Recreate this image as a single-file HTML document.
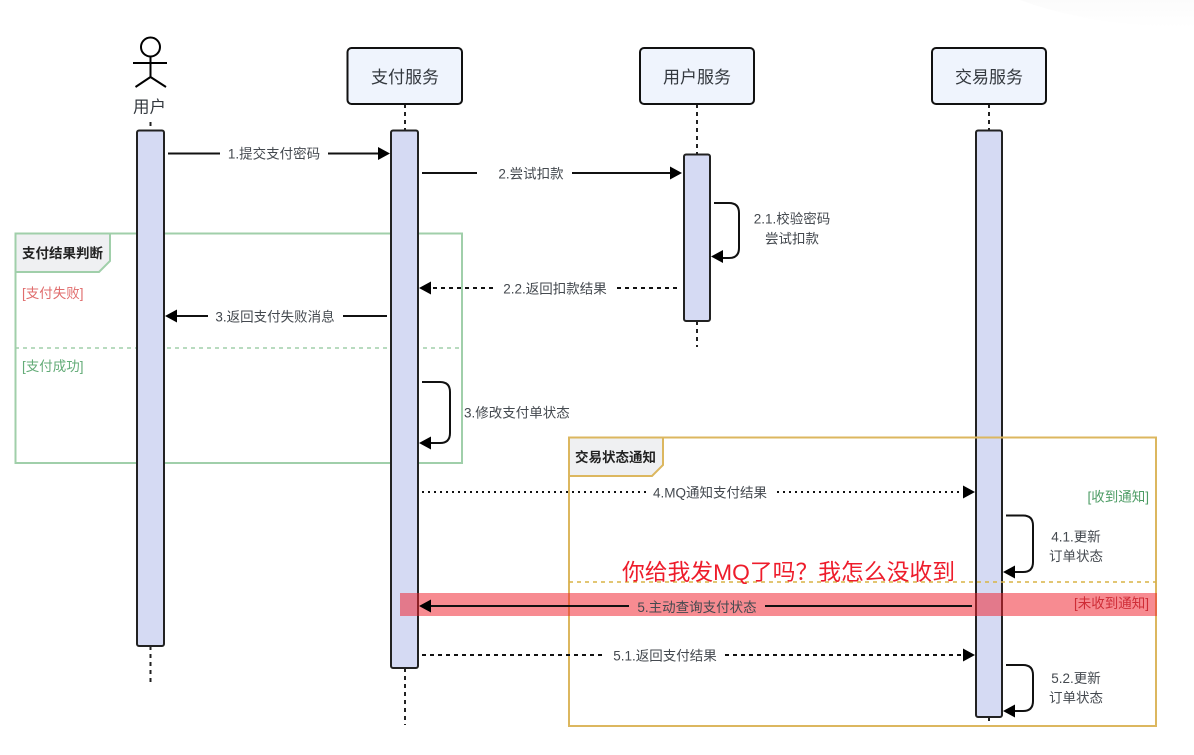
<!DOCTYPE html>
<html><head><meta charset="utf-8"><style>
html,body{margin:0;padding:0;background:#fff;width:1194px;height:755px;overflow:hidden}
svg{display:block}
text{font-family:"Liberation Sans","Noto Sans CJK SC",sans-serif;fill:#44494f;font-size:13.5px}
.c{text-anchor:middle}
.p{font-size:17px;fill:#33383e}
.b{font-weight:bold;fill:#222;font-size:13.5px}
.l{fill:none;stroke:#111;stroke-width:2}
.d{stroke-dasharray:4 4}
.o{stroke-dasharray:2 4}
.ll{fill:none;stroke:#222;stroke-width:2;stroke-dasharray:4 4}
.a{fill:#d5daf3;stroke:#222;stroke-width:2}
.n{fill:#eff4fd;stroke:#111;stroke-width:2}
.h{fill:#000}
</style></head><body>
<svg width="1194" height="755" viewBox="0 0 1194 755" xmlns="http://www.w3.org/2000/svg">
<defs><linearGradient id="g" x1="0" y1="0" x2="0" y2="1"><stop offset="0" stop-color="#fbfbfb"/><stop offset="1" stop-color="#fff"/></linearGradient></defs>
<path d="M1020 0H1194V28Q1090 26 1020 0Z" fill="url(#g)"/>

<!-- green frame -->
<rect x="15.5" y="233.5" width="446.5" height="229.5" fill="#fff" stroke="#a0cfaa" stroke-width="2"/>
<path d="M15.5 233.5H110V261L99 272H15.5Z" fill="#eff0f2" stroke="#a0cfaa" stroke-width="2"/>
<text class="b" x="22" y="258">支付结果判断</text>
<text x="22" y="298" style="fill:#e06d6d">[支付失败]</text>
<line x1="15" y1="348" x2="462" y2="348" stroke="#a0cfaa" stroke-width="1.5" stroke-dasharray="4 4"/>
<text x="22" y="371" style="fill:#63ab77">[支付成功]</text>

<!-- lifelines -->
<line class="ll" x1="150.5" y1="122" x2="150.5" y2="130"/>
<line class="ll" x1="150.5" y1="646" x2="150.5" y2="684"/>
<line class="ll" x1="405" y1="104" x2="405" y2="130"/>
<line class="ll" x1="405" y1="668" x2="405" y2="725"/>
<line class="ll" x1="697" y1="104" x2="697" y2="154"/>
<line class="ll" x1="697" y1="321" x2="697" y2="347"/>
<line class="ll" x1="989" y1="104" x2="989" y2="130"/>
<line class="ll" x1="989" y1="717" x2="989" y2="725"/>

<!-- activations -->
<rect class="a" x="137" y="130.500" width="27" height="515.500" rx="2"/>
<rect class="a" x="391" y="130.500" width="27" height="537.500" rx="2"/>
<rect class="a" x="684" y="154.500" width="26" height="166.500" rx="2"/>
<rect class="a" x="976" y="130.500" width="26" height="586.500" rx="2"/>

<!-- yellow frame -->
<rect x="569" y="437.5" width="587" height="288.5" fill="none" stroke="#dcb75f" stroke-width="2"/>
<path d="M569 437.5H663V465L652 476H569Z" fill="#eff0f2" stroke="#dcb75f" stroke-width="2"/>
<text class="b" x="575" y="462">交易状态通知</text>
<line x1="569" y1="582" x2="1156" y2="582" stroke="#d8b445" stroke-width="1.5" stroke-dasharray="4 4"/>

<!-- participants -->
<rect class="n" x="347.500" y="48" width="114.500" height="56" rx="4"/>
<text class="p c" x="405" y="83">支付服务</text>
<rect class="n" x="640" y="48" width="114" height="56" rx="4"/>
<text class="p c" x="697" y="83">用户服务</text>
<rect class="n" x="932" y="48" width="114" height="56" rx="4"/>
<text class="p c" x="989" y="83">交易服务</text>

<!-- actor -->
<g fill="none" stroke="#000" stroke-width="2">
<circle cx="150.500" cy="47" r="9.500"/>
<path d="M150.500 56.500V77M133 63H167M135.500 87L150.500 77L166 87"/>
</g>
<text class="p c" x="149.500" y="112.500" style="font-size:16.500px">用户</text>

<!-- red band -->
<rect x="400" y="593" width="757" height="23" fill="#f0202c" fill-opacity="0.52"/>

<!-- 1 -->
<path class="l" d="M168 153.500H220M328 153.500H381"/>
<path class="h" d="M390 153.500L378 147V160Z"/>
<text class="c" x="274" y="158.500">1.提交支付密码</text>
<!-- 2 -->
<path class="l" d="M422 173H477M572 173H673"/>
<path class="h" d="M682 173L670 166.500V179.500Z"/>
<text class="c" x="531" y="178.500">2.尝试扣款</text>
<!-- 2.1 -->
<path class="l" d="M714 203H729Q739 203 739 213V248Q739 258 729 258H720"/>
<path class="h" d="M711 256.500L723 250V263Z"/>
<text class="c" x="792" y="223.500">2.1.校验密码</text>
<text class="c" x="792" y="243.500">尝试扣款</text>
<!-- 2.2 -->
<path class="l d" d="M433 288H493M617 288H680"/>
<path class="h" d="M419 288L431 281.500V294.500Z"/>
<text class="c" x="555" y="293.500">2.2.返回扣款结果</text>
<!-- 3 -->
<path class="l" d="M174 316H208M343 316H387"/>
<path class="h" d="M165 316L177 309.500V322.500Z"/>
<text class="c" x="275" y="321.500">3.返回支付失败消息</text>
<!-- 3 self -->
<path class="l" d="M422 382H440Q450 382 450 392V433Q450 443 440 443H428"/>
<path class="h" d="M419 443L431 436.500V449.500Z"/>
<text x="464" y="417.500">3.修改支付单状态</text>
<!-- 4 -->
<path class="l o" d="M422 492H648M777 492H966"/>
<path class="h" d="M975 492L963 485.500V498.500Z"/>
<text class="c" x="710" y="497.500">4.MQ通知支付结果</text>
<text x="1149" y="501.500" style="text-anchor:end;fill:#4d9c65">[收到通知]</text>
<!-- 4.1 -->
<path class="l" d="M1006 515.500H1023Q1033 515.500 1033 525.500V562Q1033 572 1023 572H1012"/>
<path class="h" d="M1003 572L1015 565.500V578.500Z"/>
<text class="c" x="1076" y="541.500">4.1.更新</text>
<text class="c" x="1076" y="561">订单状态</text>
<!-- annotation -->
<text x="622" y="580" textLength="333" lengthAdjust="spacingAndGlyphs" style="font-size:22.500px;fill:#ee1c2b">你给我发MQ了吗？我怎么没收到</text>
<!-- 5 -->
<path class="l" d="M428 606H629M765 606H972"/>
<path class="h" d="M419 606L431 599.500V612.500Z"/>
<text class="c" x="697" y="612">5.主动查询支付状态</text>
<text x="1149" y="608" style="text-anchor:end;fill:#cf2c36">[未收到通知]</text>
<!-- 5.1 -->
<path class="l d" d="M422 655H605M725 655H966"/>
<path class="h" d="M975 655L963 648.500V661.500Z"/>
<text class="c" x="665" y="660.500">5.1.返回支付结果</text>
<!-- 5.2 -->
<path class="l" d="M1006 665H1023Q1033 665 1033 675V701Q1033 711 1023 711H1012"/>
<path class="h" d="M1003 711L1015 704.500V717.500Z"/>
<text class="c" x="1076" y="683">5.2.更新</text>
<text class="c" x="1076" y="702.500">订单状态</text>
</svg>
</body></html>
